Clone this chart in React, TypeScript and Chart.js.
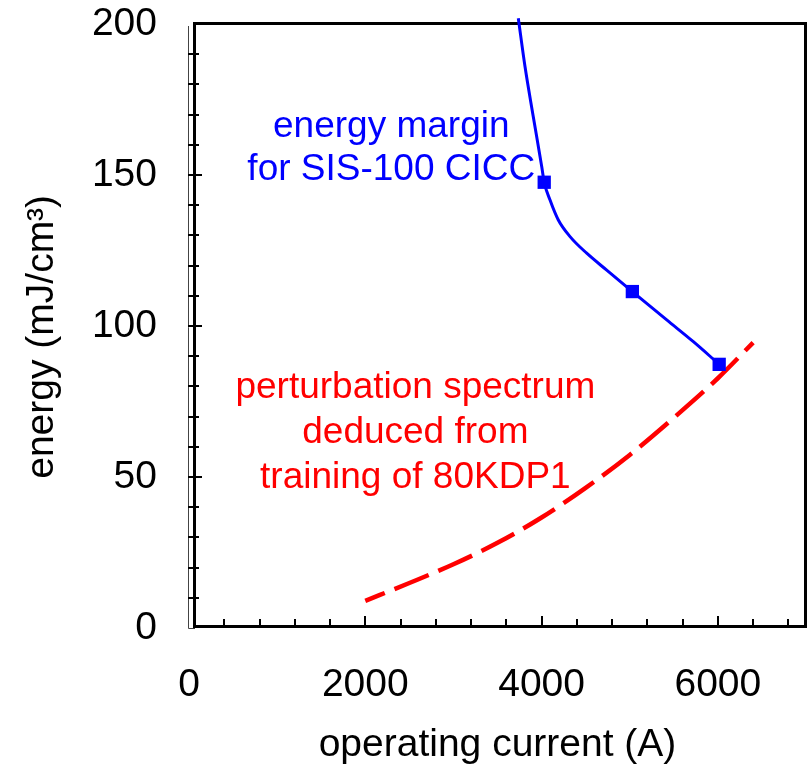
import React, { useEffect, useRef } from "react";
import { Chart, registerables } from "chart.js";

Chart.register(...registerables);

// Energy margin of the SIS-100 cable-in-conduit conductor (smooth curve)
const marginCurrent = [3736, 3812, 3906, 4002, 4030, 4096, 4190, 4323, 4512, 4739, 5030, 5420, 5722, 6015];
const marginEnergy = [201.9, 185.9, 169.3, 152.7, 147.6, 141.7, 135.1, 129.6, 124.1, 118.5, 111.4, 102, 94.8, 87.3];

// Measured points on the margin curve
const measuredCurrent = [4030, 5030, 6015];
const measuredEnergy = [147.6, 111.4, 87.3];

// Perturbation spectrum deduced from the training of 80KDP1
const spectrumCurrent = [2000, 2500, 3000, 3500, 4000, 4500, 5000, 5500, 6000, 6400];
const spectrumEnergy = [9, 14.9, 21.1, 28.2, 36.6, 46.4, 57.3, 69.6, 82.7, 94.5];

// Axis ticks
const xTickValues = [0, 400, 800, 1200, 1600, 2000, 2400, 2800, 3200, 3600, 4000, 4400, 4800, 5200, 5600, 6000, 6400, 6800];
const xTickLabels = ["0", "2000", "4000", "6000"];
const yTickValues = [0, 10, 20, 30, 40, 50, 60, 70, 80, 90, 100, 110, 120, 130, 140, 150, 160, 170, 180, 190, 200];
const yTickLabels = ["0", "50", "100", "150", "200"];

const FONT = "'Liberation Sans', Arial, Helvetica, sans-serif";

const toPoints = (xs: number[], ys: number[]) => xs.map((x, i) => ({ x, y: ys[i] }));

// Heavy plot frame with inward-pointing tick marks
const framePlugin = {
  id: "frame",
  beforeDatasetsDraw(chart: any) {
    const { ctx, chartArea, scales } = chart;
    const { left, right, top, bottom } = chartArea;
    ctx.save();
    ctx.strokeStyle = "#444";
    ctx.lineWidth = 1;
    ctx.beginPath();
    ctx.moveTo(left - 0.5, top + 2);
    ctx.lineTo(left - 0.5, bottom + 0.5);
    ctx.lineTo(left + 6, bottom + 0.5);
    ctx.stroke();

    ctx.strokeStyle = "#000";
    ctx.lineWidth = 3;
    ctx.beginPath();
    ctx.moveTo(left + 5.5, bottom - 1.5);
    ctx.lineTo(left + 5.5, top - 0.5);
    ctx.lineTo(right - 0.5, top - 0.5);
    ctx.lineTo(right - 0.5, bottom - 1.5);
    ctx.lineTo(left + 4, bottom - 1.5);
    ctx.stroke();

    ctx.lineWidth = 2;
    ctx.beginPath();
    for (const t of scales.x.ticks) {
      const px = Math.round(scales.x.getPixelForValue(t.value));
      if (px <= left + 6 || px >= right - 2) continue;
      const len = xTickLabels.includes(String(t.value)) ? 12 : 9;
      ctx.moveTo(px, bottom);
      ctx.lineTo(px, bottom - len);
    }
    for (const t of scales.y.ticks) {
      const py = Math.round(scales.y.getPixelForValue(t.value));
      if (py <= top + 1 || py >= bottom - 2) continue;
      const len = yTickLabels.includes(String(t.value)) ? 13 : 10;
      ctx.moveTo(left - 1, py);
      ctx.lineTo(left + len, py);
    }
    ctx.stroke();
    ctx.restore();
  },
};

// Curve annotations, anchored in data coordinates
const notes = [
  { lines: ["energy margin", "for SIS-100 CICC"], color: "#0000ff", x: 2295, y: 162.6, lead: 43 },
  { lines: ["perturbation spectrum", "deduced from", "training of 80KDP1"], color: "#ff0000", x: 2568, y: 76.2, lead: 45 },
];

const notesPlugin = {
  id: "notes",
  afterDatasetsDraw(chart: any) {
    const { ctx, scales } = chart;
    ctx.save();
    ctx.font = `37px ${FONT}`;
    ctx.textAlign = "center";
    ctx.textBaseline = "alphabetic";
    for (const n of notes) {
      const px = scales.x.getPixelForValue(n.x);
      const py = scales.y.getPixelForValue(n.y);
      ctx.fillStyle = n.color;
      n.lines.forEach((line, i) => ctx.fillText(line, px, py + i * n.lead));
    }
    ctx.restore();
  },
};

export default function App() {
  const canvasRef = useRef<HTMLCanvasElement>(null);

  useEffect(() => {
    document.body.style.margin = "0";
    const canvas = canvasRef.current;
    if (!canvas) return;

    const chart = new Chart(canvas, {
      type: "scatter",
      data: {
        datasets: [
          {
            label: "measured",
            data: toPoints(measuredCurrent, measuredEnergy),
            pointStyle: "rect",
            pointRadius: 9.4,
            pointBackgroundColor: "#0000ff",
            pointBorderWidth: 0,
            showLine: false,
          },
          {
            label: "energy margin",
            data: toPoints(marginCurrent, marginEnergy),
            showLine: true,
            borderColor: "#0000ff",
            borderWidth: 3,
            pointRadius: 0,
            cubicInterpolationMode: "monotone",
            clip: { left: 0, top: 8, right: 0, bottom: 0 },
          },
          {
            label: "perturbation spectrum",
            data: toPoints(spectrumCurrent, spectrumEnergy),
            showLine: true,
            borderColor: "#ff0000",
            borderWidth: 4.5,
            borderDash: [37, 10.5],
            borderDashOffset: 16,
            pointRadius: 0,
            cubicInterpolationMode: "monotone",
          },
        ],
      },
      options: {
        responsive: false,
        animation: false,
        devicePixelRatio: 1,
        layout: { autoPadding: false, padding: { top: 24, right: 1, left: 0, bottom: 0 } },
        plugins: {
          legend: { display: false },
          tooltip: { enabled: false },
        },
        scales: {
          x: {
            type: "linear",
            min: 0,
            max: 7000,
            grid: { display: false, drawTicks: false },
            border: { display: false },
            afterBuildTicks: (scale: any) => {
              scale.ticks = xTickValues.map((value) => ({ value }));
            },
            afterFit: (scale: any) => {
              scale.height = 137;
              scale.paddingLeft = 0;
              scale.paddingRight = 0;
            },
            ticks: {
              autoSkip: false,
              maxRotation: 0,
              padding: 34,
              color: "#000",
              font: { family: FONT, size: 39 },
              callback: (v: any) => (xTickLabels.includes(String(v)) ? String(v) : ""),
            },
            title: {
              display: true,
              text: "operating current (A)",
              color: "#000",
              font: { family: FONT, size: 39, lineHeight: 1 },
              padding: { top: 0, bottom: 0.5 },
            },
          },
          y: {
            type: "linear",
            min: 0,
            max: 200,
            grid: { display: false, drawTicks: false },
            border: { display: false },
            afterBuildTicks: (scale: any) => {
              scale.ticks = yTickValues.map((value) => ({ value }));
            },
            afterFit: (scale: any) => {
              scale.width = 189;
              scale.paddingTop = 0;
              scale.paddingBottom = 0;
            },
            ticks: {
              autoSkip: false,
              padding: 32,
              color: "#000",
              font: { family: FONT, size: 39 },
              callback: (v: any) => (yTickLabels.includes(String(v)) ? String(v) : ""),
            },
            title: {
              display: true,
              // trailing spaces nudge the centred title slightly downwards
              text: "energy (mJ/cm³)\u00a0\u00a0",
              color: "#000",
              font: { family: FONT, size: 39, lineHeight: 1 },
              padding: { top: 23, bottom: 0 },
            },
          },
        },
      },
      plugins: [framePlugin, notesPlugin],
    } as any);

    return () => chart.destroy();
  }, []);

  return (
    <div style={{ width: 807, height: 765 }}>
      <canvas ref={canvasRef} width={807} height={765} style={{ display: "block" }} />
    </div>
  );
}
